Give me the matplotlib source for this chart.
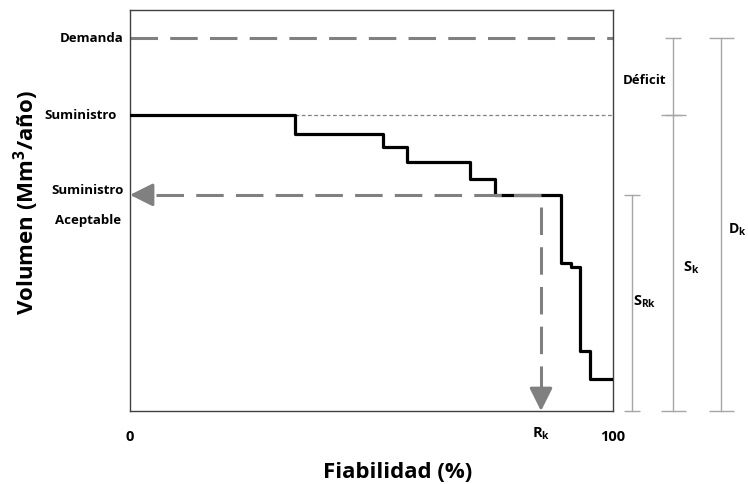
import matplotlib
matplotlib.use('Agg')
import matplotlib.pyplot as plt

plt.rcParams['font.family'] = ['Open Sans', 'DejaVu Sans']
plt.rcParams['font.weight'] = 'bold'
plt.rcParams['mathtext.fontset'] = 'custom'
plt.rcParams['mathtext.rm'] = 'Open Sans:bold'
plt.rcParams['mathtext.bf'] = 'Open Sans:bold'
plt.rcParams['mathtext.it'] = 'Open Sans:bold'

# Curva de suministro vs fiabilidad (escalones)
fiabilidad = [0, 34.2, 52.4, 57.3, 70.4, 75.6, 89.2, 91.3, 93.2, 95.2, 100]
volumen = [73.8, 69.1, 65.8, 62.1, 57.9, 53.9, 36.9, 35.9, 15.0, 8.0, 8.0]

demanda = 93.0
suministro = 73.8
sum_aceptable = 53.9
r_k = 85.1

gris = '#808080'

fig = plt.figure(figsize=(7.48, 4.84), dpi=100)
ax = fig.add_axes([0.1738, 0.1508, 0.6457, 0.8285])
ax.set_xlim(0, 100)
ax.set_ylim(0, 100)

# Demanda (linea discontinua)
ax.plot([0, 100], [demanda, demanda], color=gris, lw=2.2, dashes=(9, 4))
# Suministro (punteada fina)
ax.plot([fiabilidad[1], 100], [suministro, suministro], color=gris, lw=0.9, dashes=(3, 2))

# Curva escalonada
ax.plot(fiabilidad, volumen, drawstyle='steps-post', color='black', lw=2.3, zorder=3)

# Flechas discontinuas
ax.plot([r_k, 4], [sum_aceptable, sum_aceptable], color=gris, lw=2.2, dashes=(9, 4), zorder=4)
ax.annotate('', xy=(0, sum_aceptable), xytext=(4, sum_aceptable),
            arrowprops=dict(arrowstyle='-|>,head_length=0.7,head_width=0.35', color=gris,
                            lw=2.2, mutation_scale=20, shrinkA=0, shrinkB=0), zorder=4)
ax.plot([r_k, r_k], [sum_aceptable - 3, 5], color=gris, lw=2.2, dashes=(9, 4), zorder=4)
ax.annotate('', xy=(r_k, 0), xytext=(r_k, 5),
            arrowprops=dict(arrowstyle='-|>,head_length=0.7,head_width=0.35', color=gris,
                            lw=2.2, mutation_scale=20, shrinkA=0, shrinkB=0), zorder=4)

# Barras a la derecha
gris_claro = '#a6a6a6'
ax.plot([103.9, 103.9], [0, sum_aceptable], color=gris_claro, lw=1, marker='_', ms=12,
        clip_on=False)
ax.plot([112.4, 112.4], [0, suministro], color=gris_claro, lw=1, marker='_', ms=18,
        clip_on=False)
ax.plot([112.4, 112.4], [suministro, demanda], color=gris_claro, lw=1, marker='_', ms=12,
        clip_on=False)
ax.plot([122.4, 122.4], [0, demanda], color=gris_claro, lw=1, marker='_', ms=18,
        clip_on=False)

ax.text(106.6, 82.4, 'Déficit', fontsize=9.5, ha='center', va='center', clip_on=False)
ax.text(104.2, 27.2, r'S$_{\mathbf{Rk}}$', fontsize=10.5, ha='left', va='center', clip_on=False)
ax.text(114.5, 35.7, r'S$_{\mathbf{k}}$', fontsize=10.5, ha='left', va='center', clip_on=False)
ax.text(123.9, 45.1, r'D$_{\mathbf{k}}$', fontsize=10, ha='left', va='center', clip_on=False)

# Etiquetas del eje y
ax.set_yticks([])
ax.text(-1.4, demanda, 'Demanda', fontsize=9.5, ha='right', va='center')
ax.text(-2.7, suministro, 'Suministro', fontsize=9.5, ha='right', va='center')
ax.text(-8.7, 55.1, 'Suministro', fontsize=9.5, ha='center', va='center')
ax.text(-8.7, 47.6, 'Aceptable', fontsize=9.5, ha='center', va='center')

# Etiquetas del eje x
ax.set_xticks([0, r_k, 100])
ax.set_xticklabels(['0', r'R$_{\mathbf{k}}$', '100'], fontsize=10.5)
ax.tick_params(axis='x', length=0, pad=14)
ax.get_xticklabels()[1].set_y(0.012)

for s in ax.spines.values():
    s.set_color('#404040')
    s.set_linewidth(1)

fig.text(398 / 748, 1 - 472 / 484, 'Fiabilidad (%)', fontsize=16, ha='center', va='center')
fig.text(26 / 748, 1 - 203 / 484, r'Volumen (Mm$^{\mathbf{3}}$/año)', fontsize=16,
         ha='center', va='center', rotation=90)

fig.savefig('out.png', dpi=100)
